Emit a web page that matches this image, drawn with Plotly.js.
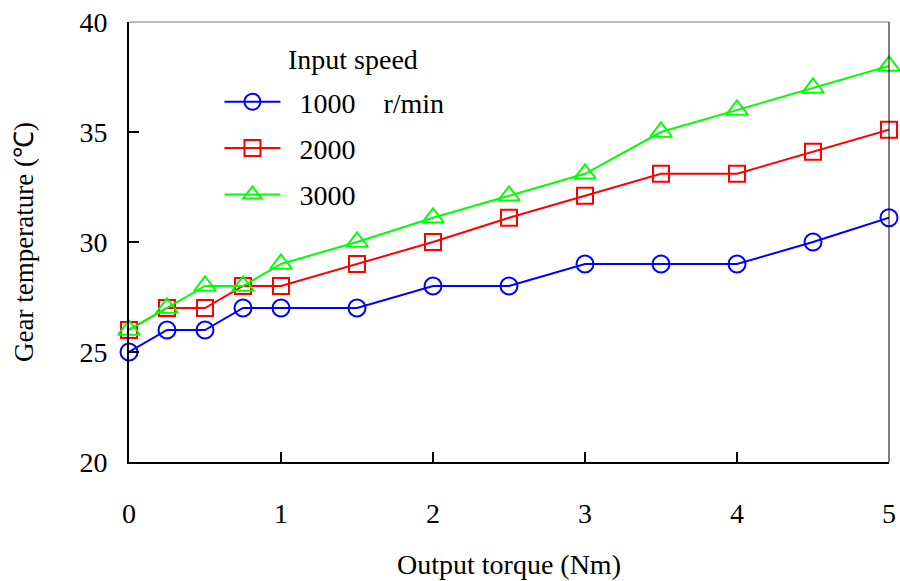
<!DOCTYPE html>
<html>
<head>
<meta charset="utf-8">
<script src="https://cdn.plot.ly/plotly-3.0.1.min.js"></script>
<style>html,body{margin:0;padding:0;background:#fff;}#chart{width:900px;height:581px;}</style>
</head>
<body>
<div id="chart"></div>
<script>
const torque = [0, 0.25, 0.5, 0.75, 1, 1.5, 2, 2.5, 3, 3.5, 4, 4.5, 5];
const temp1000 = [25, 26, 26, 27, 27, 27, 28, 28, 29, 29, 29, 30, 31.1];
const temp2000 = [26, 27, 27, 28, 28, 29, 30, 31.1, 32.1, 33.1, 33.1, 34.1, 35.1];
const temp3000 = [26, 27, 28, 28, 29, 30, 31.1, 32.1, 33.1, 35, 36, 37, 38];
const seriesNames = ['\u20021000\u00a0\u00a0\u00a0\u00a0r/min', '\u20022000', '\u20023000'];
const xTicks = [0, 1, 2, 3, 4, 5];
const yTicks = [20, 25, 30, 35, 40];

const FONT = '"Liberation Serif", "Times New Roman", serif';
const mk = (y, name, color, symbol, size, g) => ({
  x: torque, y: y, name: name, type: 'scatter', mode: 'lines+markers',
  legendgroup: g,
  line: {color: color, width: 2},
  marker: {symbol: symbol, size: size, color: color, line: {color: color, width: 2}},
  cliponaxis: false
});
const data = [
  mk(temp1000, seriesNames[0], '#0000ff', 'circle-open', 17, 'a'),
  mk(temp2000, seriesNames[1], '#ff0000', 'square-open', 16, 'b'),
  mk(temp3000, seriesNames[2], '#00ff00', 'triangle-up-open', 19, 'c')
];
const layout = {
  width: 900, height: 581,
  margin: {l: 129, r: 11, t: 22, b: 119},
  paper_bgcolor: '#fff', plot_bgcolor: '#fff',
  font: {family: FONT, size: 28, color: '#000'},
  showlegend: true,
  legend: {x: 0.119, y: 0.875, xanchor: 'left', yanchor: 'top', bgcolor: 'rgba(0,0,0,0)',
           font: {family: FONT, size: 28}, tracegroupgap: 7, itemwidth: 56, traceorder: 'grouped'},
  xaxis: {range: [0, 5], tickvals: xTicks, ticks: 'inside', ticklen: 10, tickwidth: 2, tickcolor: '#000',
          showline: true, linewidth: 2, linecolor: '#000', showgrid: false, zeroline: false,
          ticklabelstandoff: 25, tickfont: {family: FONT, size: 28},
          title: {text: 'Output torque (Nm)', font: {family: FONT, size: 28}, standoff: 27}},
  yaxis: {range: [20, 40], tickvals: yTicks, ticks: 'inside', ticklen: 10, tickwidth: 2, tickcolor: '#000',
          showline: true, linewidth: 2, linecolor: '#000', showgrid: false, zeroline: false,
          ticklabelstandoff: 14, tickfont: {family: FONT, size: 28},
          title: {text: 'Gear temperature (\u2103)', font: {family: FONT, size: 27}, standoff: 38}},
  shapes: [
    {type: 'line', xref: 'paper', yref: 'paper', x0: 0, x1: 1, y0: 1, y1: 1, line: {color: '#777', width: 1}},
    {type: 'line', xref: 'paper', yref: 'paper', x0: 1, x1: 1, y0: 0, y1: 1, line: {color: '#000', width: 1}}
  ],
  annotations: [
    {text: 'Input speed', xref: 'paper', yref: 'paper', x: 0.207, y: 0.915, xanchor: 'left', yanchor: 'middle',
     showarrow: false, font: {family: FONT, size: 28}}
  ]
};
Plotly.newPlot('chart', data, layout, {displayModeBar: false, staticPlot: true});
</script>
</body>
</html>
